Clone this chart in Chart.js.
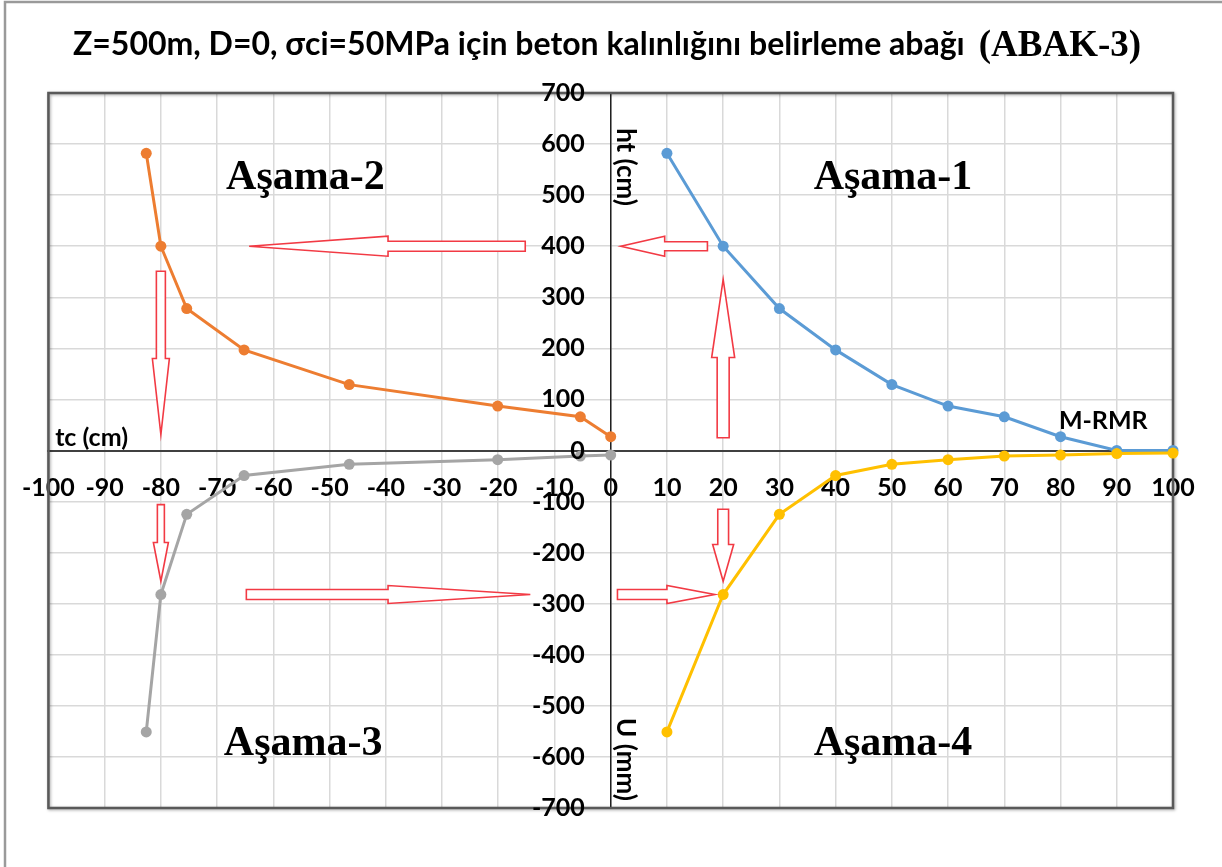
<!DOCTYPE html>
<html lang="tr">
<head>
<meta charset="utf-8">
<title>ABAK-3</title>
<script src="https://cdn.jsdelivr.net/npm/chart.js@4.4.1/dist/chart.umd.min.js"></script>
<style>
  html, body { margin: 0; padding: 0; background: #ffffff; }
  #wrap { width: 1222px; height: 867px; }
</style>
</head>
<body>
<div id="wrap"><canvas id="abak" width="1222" height="867"></canvas></div>
<script>
// RMR classes (Aşama-1 / Aşama-4 horizontal axis)
const rmr = [10, 20, 30, 40, 50, 60, 70, 80, 90, 100];
// ht (cm) for each RMR value
const htCm = [582, 400, 278, 197, 129, 87, 66, 27, 0, 0];
// U (mm) for each RMR value
const uMm = [-551, -282, -125, -49, -27, -18, -11, -9, -6, -5];
// tc (cm) for the first eight RMR values
const tcCm = [-82.6, -80, -75.4, -65.2, -46.5, -20.1, -5.4, 0];

const titleMain = 'Z=500m, D=0, σci=50MPa için beton kalınlığını belirleme abağı';
const titleTag = '(ABAK-3)';
const stageLabels = ['Aşama-1', 'Aşama-2', 'Aşama-3', 'Aşama-4'];
const seriesName = 'M-RMR';
const axisNames = { tc: 'tc (cm)', ht: 'ht (cm)', u: 'U (mm)' };

const toPts = (xs, ys) => xs.map((x, i) => ({ x: x, y: ys[i] }));

// reading-path arrows, in axis units: tail -> neck (head base) -> tip
const arrows = [
  { tail: [17.2, 400], neck: [9.6, 400], tip: [1.8, 400], body: 4.5, head: 10 },
  { tail: [20, 25], neck: [20, 182], tip: [20, 335], body: 6, head: 11.5 },
  { tail: [-15.2, 400], neck: [-39.6, 400], tip: [-64.3, 400], body: 5, head: 10 },
  { tail: [-80, 351], neck: [-80, 180], tip: [-80, 31], body: 4.5, head: 8.5 },
  { tail: [-80, -106], neck: [-80, -180], tip: [-80, -256], body: 3.5, head: 7.5 },
  { tail: [-64.8, -282], neck: [-39.6, -282], tip: [-14.3, -282], body: 5, head: 9 },
  { tail: [1.2, -282], neck: [10, -282], tip: [18.5, -282], body: 5, head: 9 },
  { tail: [20, -115], neck: [20, -184], tip: [20, -256], body: 5.4, head: 10.5 }
];

const tickFont = { family: 'Lato', size: 25, weight: 'bold' };

function drawArrow(ctx, xs, ys, a) {
  const T = { x: xs.getPixelForValue(a.tail[0]), y: ys.getPixelForValue(a.tail[1]) };
  const N = { x: xs.getPixelForValue(a.neck[0]), y: ys.getPixelForValue(a.neck[1]) };
  const P = { x: xs.getPixelForValue(a.tip[0]), y: ys.getPixelForValue(a.tip[1]) };
  const len = Math.hypot(P.x - T.x, P.y - T.y);
  const d = { x: (P.x - T.x) / len, y: (P.y - T.y) / len };
  const n = { x: -d.y, y: d.x };
  const pts = [
    [T.x + n.x * a.body, T.y + n.y * a.body],
    [N.x + n.x * a.body, N.y + n.y * a.body],
    [N.x + n.x * a.head, N.y + n.y * a.head],
    [P.x, P.y],
    [N.x - n.x * a.head, N.y - n.y * a.head],
    [N.x - n.x * a.body, N.y - n.y * a.body],
    [T.x - n.x * a.body, T.y - n.y * a.body]
  ];
  ctx.beginPath();
  pts.forEach((p, i) => (i ? ctx.lineTo(p[0], p[1]) : ctx.moveTo(p[0], p[1])));
  ctx.closePath();
  ctx.fillStyle = '#ffffff';
  ctx.fill();
  ctx.strokeStyle = '#f23a44';
  ctx.lineWidth = 1.6;
  ctx.stroke();
}

const decor = {
  id: 'decor',
  beforeDraw(chart) {
    const ctx = chart.ctx;
    ctx.save();
    ctx.fillStyle = '#ffffff';
    ctx.fillRect(0, 0, chart.width, chart.height);
    // chart frame
    ctx.strokeStyle = '#9a9a9a';
    ctx.lineWidth = 2.5;
    ctx.strokeRect(5, 2, chart.width + 20, chart.height + 20);
    // title: sans part + serif tag
    ctx.fillStyle = '#000000';
    ctx.textBaseline = 'alphabetic';
    ctx.textAlign = 'left';
    const fMain = 'bold 32px Lato';
    const fTag = 'bold 37px "Liberation Serif"';
    ctx.font = fMain;
    const w1 = ctx.measureText(titleMain).width;
    ctx.font = fTag;
    const w2 = ctx.measureText(titleTag).width;
    const gap = 14;
    const x0 = 607 - (w1 + gap + w2) / 2;
    ctx.font = fMain;
    ctx.fillText(titleMain, x0, 55);
    ctx.font = fTag;
    ctx.fillText(titleTag, x0 + w1 + gap, 56);
    ctx.restore();
  },
  beforeDatasetsDraw(chart) {
    const { ctx, chartArea: ca } = chart;
    ctx.save();
    ctx.shadowColor = 'rgba(0,0,0,0.35)';
    ctx.shadowBlur = 3;
    ctx.shadowOffsetX = 1;
    ctx.shadowOffsetY = 1;
    ctx.strokeStyle = '#595959';
    ctx.lineWidth = 2.5;
    ctx.strokeRect(ca.left, ca.top, ca.right - ca.left, ca.bottom - ca.top);
    ctx.restore();
  },
  afterDatasetsDraw(chart) {
    const { ctx } = chart;
    const xs = chart.scales.x, ys = chart.scales.y;
    ctx.save();
    arrows.forEach(a => drawArrow(ctx, xs, ys, a));

    // y tick labels, right aligned left of the vertical axis
    const axisX = xs.getPixelForValue(0);
    ctx.fillStyle = '#000000';
    ctx.font = 'bold 25px Lato';
    ctx.textAlign = 'right';
    ctx.textBaseline = 'middle';
    ys.ticks.forEach(t => {
      ctx.fillText(String(t.value), axisX - 26, ys.getPixelForValue(t.value));
    });

    // stage names
    ctx.font = 'bold 42px "Liberation Serif"';
    ctx.textAlign = 'center';
    ctx.textBaseline = 'middle';
    const stagePos = [[50.2, 534], [-54.3, 534], [-54.7, -575], [50.2, -575]];
    stageLabels.forEach((s, i) => {
      ctx.fillText(s, xs.getPixelForValue(stagePos[i][0]), ys.getPixelForValue(stagePos[i][1]));
    });

    // series name
    ctx.font = 'bold 25px Lato';
    ctx.fillText(seriesName, xs.getPixelForValue(87.6), ys.getPixelForValue(57));

    // axis names
    ctx.font = 'bold 25px Lato';
    ctx.textAlign = 'left';
    ctx.fillText(axisNames.tc, xs.getPixelForValue(-98.8), ys.getPixelForValue(25));
    const rot = (txt, x, y) => {
      ctx.save();
      ctx.translate(x, y);
      ctx.rotate(Math.PI / 2);
      ctx.textAlign = 'center';
      ctx.fillText(txt, 0, 0);
      ctx.restore();
    };
    ctx.font = 'bold 26px Lato';
    rot(axisNames.ht, axisX + 15, ys.getPixelForValue(555));
    rot(axisNames.u, axisX + 15, ys.getPixelForValue(-605));
    ctx.restore();
  }
};

const line = (label, pts, color, order) => ({
  label: label,
  data: pts,
  showLine: true,
  borderColor: color,
  backgroundColor: color,
  borderWidth: 3,
  pointRadius: 5.5,
  pointBorderWidth: 0,
  pointHoverRadius: 5.5,
  clip: false,
  order: order
});

new Chart(document.getElementById('abak'), {
  type: 'scatter',
  data: {
    datasets: [
      line('Aşama-1', toPts(rmr, htCm), '#5B9BD5', 3),
      line('Aşama-2', toPts(tcCm, htCm.slice(0, tcCm.length)), '#ED7D31', 2),
      line('Aşama-3', toPts(tcCm, uMm.slice(0, tcCm.length)), '#A5A5A5', 1),
      line('Aşama-4', toPts(rmr, uMm), '#FFC000', 0)
    ]
  },
  options: {
    responsive: false,
    animation: false,
    devicePixelRatio: 1,
    layout: { padding: { left: 48, right: 49, top: 93, bottom: 59 } },
    plugins: { legend: { display: false }, tooltip: { enabled: false }, title: { display: false } },
    scales: {
      x: {
        type: 'linear', min: -100, max: 100,
        position: { y: 0 },
        ticks: { stepSize: 10, autoSkip: false, maxRotation: 0, font: tickFont, color: '#000000', padding: 22 },
        grid: { color: '#d9d9d9', lineWidth: 1.5, drawTicks: false },
        border: { color: '#404040', width: 2 }
      },
      y: {
        type: 'linear', min: -700, max: 700,
        position: { x: 0 },
        ticks: { stepSize: 100, display: false },
        grid: { color: '#d9d9d9', lineWidth: 1.5, drawTicks: false },
        border: { color: '#202020', width: 1.5 }
      }
    }
  },
  plugins: [decor]
});
</script>
</body>
</html>
